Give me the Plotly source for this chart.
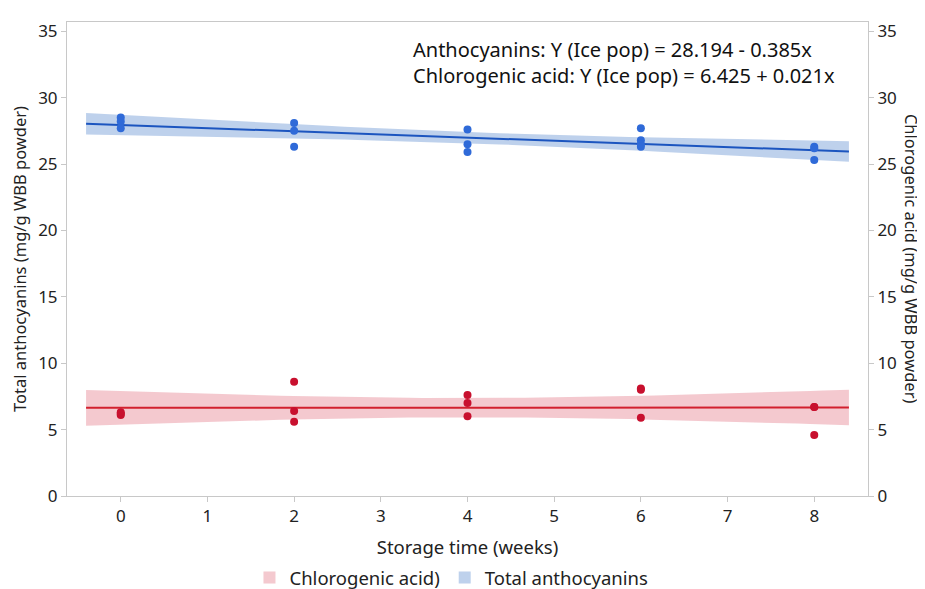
import numpy as np
import plotly.graph_objects as go

weeks = [0, 0, 0, 2, 2, 2, 4, 4, 4, 6, 6, 6, 6, 8, 8, 8]
anthocyanins = [28.5, 28.2, 27.7, 28.1, 27.5, 26.3, 27.6, 26.5, 25.9, 27.7, 26.8, 26.5, 26.3, 26.3, 26.2, 25.3]
weeks_c = [0, 0, 0, 2, 2, 2, 4, 4, 4, 6, 6, 6, 8, 8, 8]
chlorogenic = [6.1, 6.2, 6.3, 8.6, 6.4, 5.6, 7.6, 7.0, 6.0, 8.1, 8.0, 5.9, 6.7, 6.7, 4.6]
x_ticks = [0, 1, 2, 3, 4, 5, 6, 7, 8]
y_ticks = [0, 5, 10, 15, 20, 25, 30, 35]
eq_lines = ["Anthocyanins: Y (Ice pop) = 28.194 - 0.385x",
            "Chlorogenic acid: Y (Ice pop) = 6.425 + 0.021x"]

FONT = "Noto Sans"
BAND_K = 2.55  # band half-width multiplier

def fit_band(x, y, xs):
    x = np.asarray(x, float); y = np.asarray(y, float)
    n = len(x)
    b, a = np.polyfit(x, y, 1)
    res = y - (a + b * x)
    s = np.sqrt(np.sum(res ** 2) / (n - 2))
    sxx = np.sum((x - x.mean()) ** 2)
    yh = a + b * xs
    se = s * np.sqrt(1 / n + (xs - x.mean()) ** 2 / sxx)
    return yh, yh - BAND_K * se, yh + BAND_K * se

xs = np.linspace(-0.4, 8.4, 60)

fig = go.Figure()

series = [
    ("Chlorogenic acid)", weeks_c, chlorogenic, "rgba(236,165,175,0.6)", "#d2202e", "#c8102e"),
    ("Total anthocyanins", weeks, anthocyanins, "rgba(146,178,224,0.6)", "#1c55bf", "#2f6ad8"),
]
for name, x, y, band, lc, pc in series:
    yh, lo, hi = fit_band(x, y, xs)
    fig.add_trace(go.Scatter(x=xs, y=lo, mode="lines", line=dict(width=0),
                             showlegend=False, hoverinfo="skip"))
    fig.add_trace(go.Scatter(x=xs, y=hi, mode="lines", line=dict(width=0),
                             fill="tonexty", fillcolor=band, showlegend=False))
    fig.add_trace(go.Scatter(x=xs, y=yh, mode="lines", line=dict(color=lc, width=2),
                             showlegend=False))
    fig.add_trace(go.Scatter(x=x, y=y, mode="markers", marker=dict(color=pc, size=8),
                             showlegend=False))

# legend swatches
for name, x, y, band, lc, pc in series:
    fig.add_trace(go.Bar(x=[None], y=[None], name=name, marker=dict(color=band, line=dict(width=0)),
                         showlegend=True))

# dummy trace for right axis
fig.add_trace(go.Scatter(x=[None], y=[None], yaxis="y2", showlegend=False))

axis_common = dict(showline=True, linecolor="#c8c8c8", linewidth=1, ticks="outside",
                   ticklen=5, tickcolor="#c8c8c8", showgrid=False, zeroline=False,
                   tickfont=dict(size=17, color="#222", family=FONT))

# page body has an 8px margin; size/margins compensate for it
fig.update_layout(
    width=917, height=581,
    margin=dict(l=59, r=57, t=14, b=93, autoexpand=False),
    plot_bgcolor="white", paper_bgcolor="white",
    font=dict(family=FONT, color="#222"),
    xaxis=dict(range=[-0.62, 8.62], tickvals=x_ticks, mirror=True,
               title=dict(text="Storage time (weeks)", font=dict(size=18.5), standoff=14),
               **axis_common),
    yaxis=dict(range=[0, 35.7], tickvals=y_ticks,
               title=dict(text="Total anthocyanins (mg/g WBB powder)", font=dict(size=16.5), standoff=8),
               **axis_common),
    yaxis2=dict(range=[0, 35.7], tickvals=y_ticks, overlaying="y", side="right",
                **axis_common),
    legend=dict(orientation="h", x=0.48, xanchor="center", y=-0.173, yanchor="middle",
                font=dict(size=18.5, family=FONT), traceorder="normal", itemwidth=30),
    showlegend=True,
)

fig.add_annotation(xref="paper", yref="paper", x=1.055, y=0.5, xanchor="center", yanchor="middle",
                   text="Chlorogenic acid (mg/g WBB powder)",
                   textangle=90, showarrow=False, font=dict(size=16.5, family=FONT))
fig.add_annotation(xref="paper", yref="paper", x=0.43, y=0.975, xanchor="left", yanchor="top",
                   align="left", text="<br>".join(eq_lines), showarrow=False,
                   font=dict(size=20, family=FONT, color="#111"))

fig.write_html("out.html")
